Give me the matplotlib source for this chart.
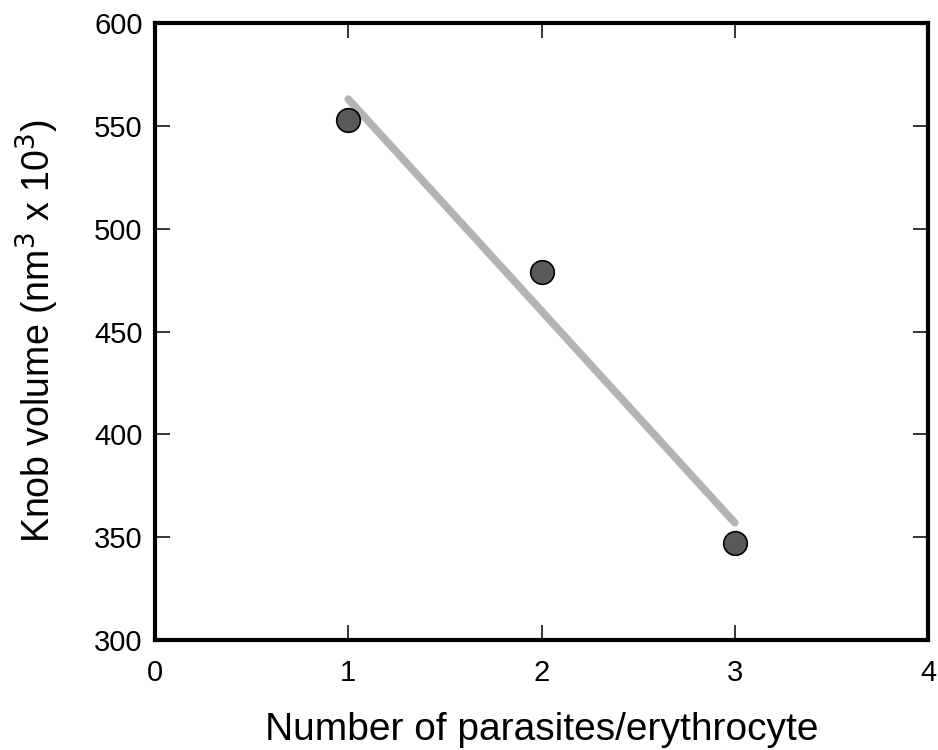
import numpy as np
import matplotlib
matplotlib.use("Agg")
from matplotlib import pyplot as plt

# data
parasites = [1, 2, 3]
knob_volume = [553, 479, 347]
fit_x = [1, 3]
fit_y = [563, 357]

x_ticks = [0, 1, 2, 3, 4]
y_ticks = [300, 350, 400, 450, 500, 550, 600]

plt.rcParams["font.family"] = ["Liberation Sans", "DejaVu Sans"]

fig = plt.figure(figsize=(9.38, 7.5), dpi=100)
# axes box: spines at x 155..928, y 23..640 px
ax = fig.add_axes([155 / 938, 1 - 640 / 750, (928 - 155) / 938, (640 - 23) / 750])

ax.plot(fit_x, fit_y, color="#b3b3b3", linewidth=5.5, solid_capstyle="round", zorder=2)
ax.plot(parasites, knob_volume, linestyle="none", marker="o", markersize=17,
        markerfacecolor="#595959", markeredgecolor="black", markeredgewidth=1.2, zorder=3)

ax.set_xlim(0, 4)
ax.set_ylim(300, 600)
ax.set_xticks(x_ticks)
ax.set_yticks(y_ticks)
ax.tick_params(direction="in", length=11, width=1.1, top=True, right=True,
               labelsize=21)
ax.tick_params(axis="x", pad=14)
ax.tick_params(axis="y", pad=9)
for sp in ax.spines.values():
    sp.set_linewidth(3)

ax.set_xlabel("Number of parasites/erythrocyte", fontsize=28, labelpad=18)
ax.set_ylabel("Knob volume (nm$^3$ x 10$^3$)", fontsize=27, labelpad=24)

fig.savefig("out.png", dpi=100)
